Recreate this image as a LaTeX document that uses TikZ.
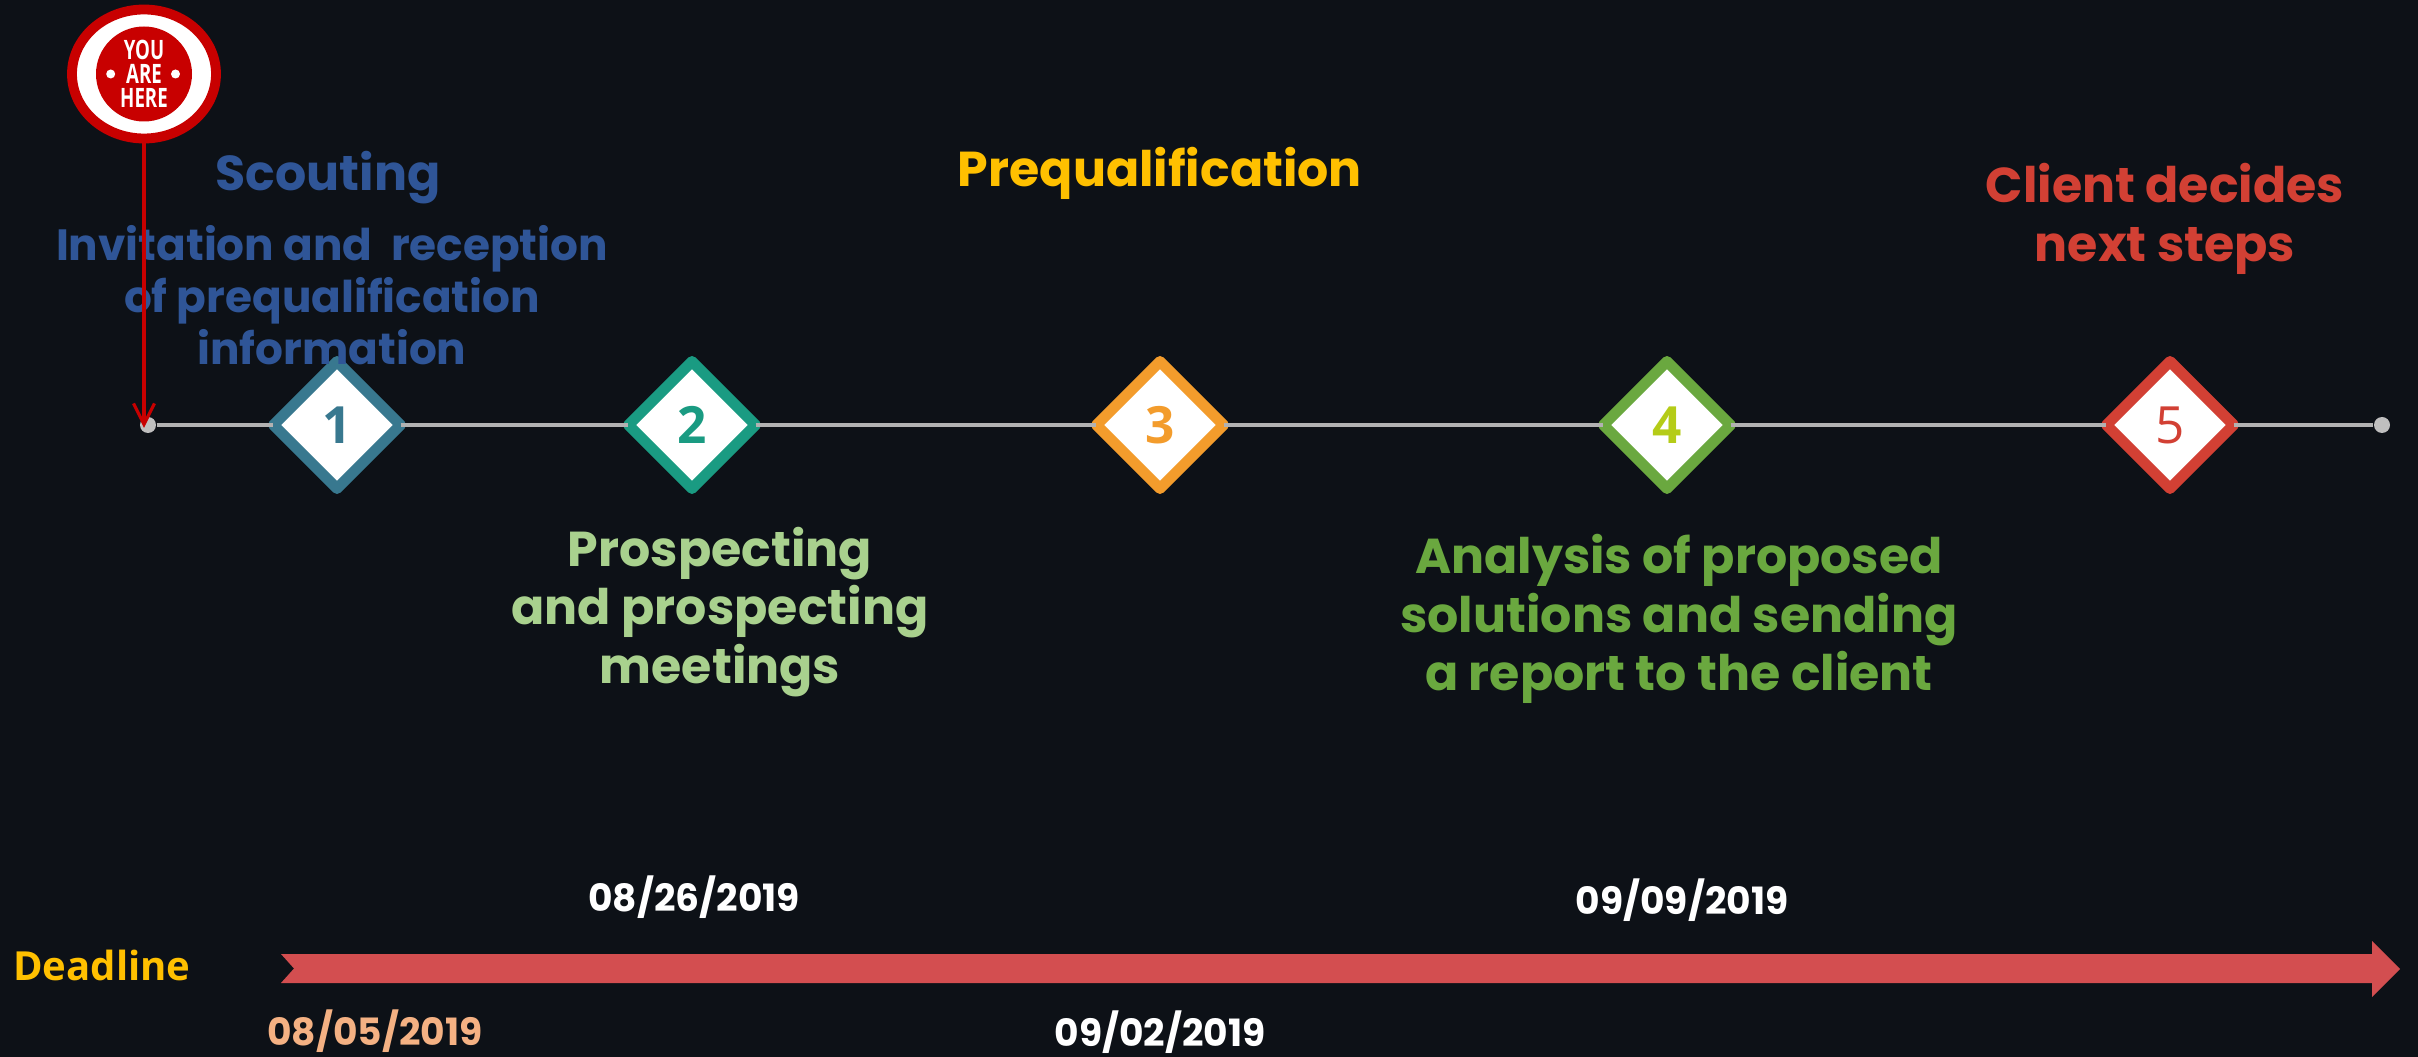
\documentclass[tikz,border=0pt]{standalone}
\usepackage{fontspec}
\usepackage{tikz}
\usetikzlibrary{shapes,positioning,arrows.meta}
\setmainfont{Poppins}
\newfontfamily\digitfont{Open Sans}
\newfontfamily\badgefont[FakeStretch=0.7]{Open Sans}
\definecolor{nightbg}{HTML}{0D1117}
\definecolor{scoutblue}{HTML}{2F5597}
\definecolor{prequalyellow}{HTML}{FFC000}
\definecolor{clientred}{HTML}{D24034}
\definecolor{prospectgreen}{HTML}{A9D18E}
\definecolor{analysisgreen}{HTML}{6AA83F}
\definecolor{ribbonred}{HTML}{D34E50}
\definecolor{herered}{HTML}{C80000}
\definecolor{peach}{HTML}{F4B183}
\definecolor{oneteal}{HTML}{38788F}
\definecolor{twoteal}{HTML}{1A9B82}
\definecolor{threeorange}{HTML}{F39C2C}
\definecolor{fourlime}{HTML}{B5CC18}

\begin{document}
\begin{tikzpicture}[
  steplabel/.style={text=#1, font=\bfseries\fontsize{13.95}{16.7}\selectfont, align=center, inner sep=0pt},
  scoutlabel/.style={text=scoutblue, font=\bfseries\fontsize{12.45}{14.7}\selectfont, align=center, inner sep=0pt},
  datelabel/.style={text=#1, font=\bfseries\fontsize{10.7}{12}\selectfont, inner sep=0pt},
  milestone/.style={diamond, draw=#1, fill=white, line width=3.07pt, line join=round, minimum size=1.272cm, inner sep=0pt, outer sep=0pt, aspect=1},
  stepdigit/.style={text=#1, font=\digitfont\bfseries\fontsize{14.6}{15}\selectfont, inner sep=0pt},
  enddot/.style={circle, fill=gray!50!white, minimum size=0.16cm, inner sep=0pt},
  timeline/.style={draw=gray!60!white, line width=1.2pt}]

\fill [nightbg] (0,0) rectangle (24.18,-10.57);
\useasboundingbox (0,0) rectangle (24.18,-10.57);

% TIMELINE

\node [enddot] (startdot) at (1.48,-4.25) {};

\node [milestone=oneteal, right=1.89cm of startdot.center, anchor=center] (stepone) {};
\node [milestone=twoteal, right=3.55cm of stepone.center, anchor=center] (steptwo) {};
\node [milestone=threeorange, right=4.68cm of steptwo.center, anchor=center] (stepthree) {};
\node [milestone=analysisgreen, right=5.07cm of stepthree.center, anchor=center] (stepfour) {};
\node [milestone=clientred, right=5.03cm of stepfour.center, anchor=center] (stepfive) {};
\node [enddot, right=2.12cm of stepfive.center, anchor=center] (finaldot) {};

\foreach \from/\to in {startdot/stepone,stepone/steptwo,steptwo/stepthree,stepthree/stepfour,stepfour/stepfive,stepfive/finaldot}
  \draw [timeline] (\from) -- (\to);

\node [stepdigit=oneteal] (digitone) at (stepone) {1};
\node [stepdigit=twoteal] (digittwo) at (steptwo) {2};
\node [stepdigit=threeorange] (digitthree) at (stepthree) {3};
\node [stepdigit=fourlime] (digitfour) at (stepfour) {4};
\node [text=clientred, font=\digitfont\fontsize{14.6}{15}\selectfont, inner sep=0pt] (digitfive) at (stepfive) {5};

% LABELS

\node [steplabel=scoutblue, above=2.47cm of stepone.center, anchor=center, xshift=-0.09cm] (scouting) {Scouting};
\node [scoutlabel, above=1.30cm of stepone.center, anchor=center, xshift=-0.05cm] (scoutingtext) {Invitation and\ \ reception\\of prequalification\\information};
\node [steplabel=prequalyellow, above=2.52cm of stepthree.center, anchor=center] (prequal) {Prequalification};
\node [steplabel=clientred, above=2.06cm of stepfive.center, anchor=center, xshift=-0.05cm] (clientnext) {Client decides\\next steps};
\node [steplabel=prospectgreen, below=1.87cm of steptwo.center, anchor=center, xshift=0.28cm] (prospecting) {Prospecting\\and prospecting\\meetings};
\node [steplabel=analysisgreen, below=1.94cm of stepfour.center, anchor=center, xshift=0.12cm] (analysis) {Analysis of proposed\\solutions and sending\\a report to the client};

% YOU ARE HERE

\node [ellipse, draw=herered, fill=white, line width=2.8pt, minimum width=1.44cm, minimum height=1.29cm, inner sep=0pt] (badge) at (1.44,-0.74) {};
\node [ellipse, fill=herered, minimum width=0.96cm, minimum height=0.86cm, inner sep=0pt, text=white, align=center, font=\badgefont\bfseries\fontsize{7.6}{6.8}\selectfont] (badgetext) at (badge) {YOU\\ARE\\HERE};
\node [circle, fill=white, minimum size=0.09cm, inner sep=0pt] (badgeleft) at (1.107,-0.74) {};
\node [circle, fill=white, minimum size=0.09cm, inner sep=0pt] (badgeright) at (1.755,-0.74) {};

\coordinate (herepoint) at (1.44,-4.28);
\draw [herered, line width=0.9pt, -{Straight Barb[length=0.21cm,width=0.21cm]}] (badge.south) -- (herepoint);

% DEADLINE

\node [text=prequalyellow, font=\digitfont\bfseries\fontsize{11.4}{13}\selectfont, inner sep=0pt] (deadline) at (1.02,-9.65) {Deadline};

\fill [ribbonred] (2.81,-9.54) -- (23.72,-9.54) -- (23.72,-9.41) -- (24,-9.69) -- (23.72,-9.97) -- (23.72,-9.83) -- (2.81,-9.83) -- (2.94,-9.685) -- cycle;

\node [datelabel=white] (dateone) at (6.94,-8.97) {08/26/2019};
\node [datelabel=white] (datetwo) at (16.82,-9.00) {09/09/2019};
\node [datelabel=white] (datethree) at (11.60,-10.32) {09/02/2019};
\node [datelabel=peach] (datefour) at (3.75,-10.31) {08/05/2019};

\end{tikzpicture}
\end{document}
